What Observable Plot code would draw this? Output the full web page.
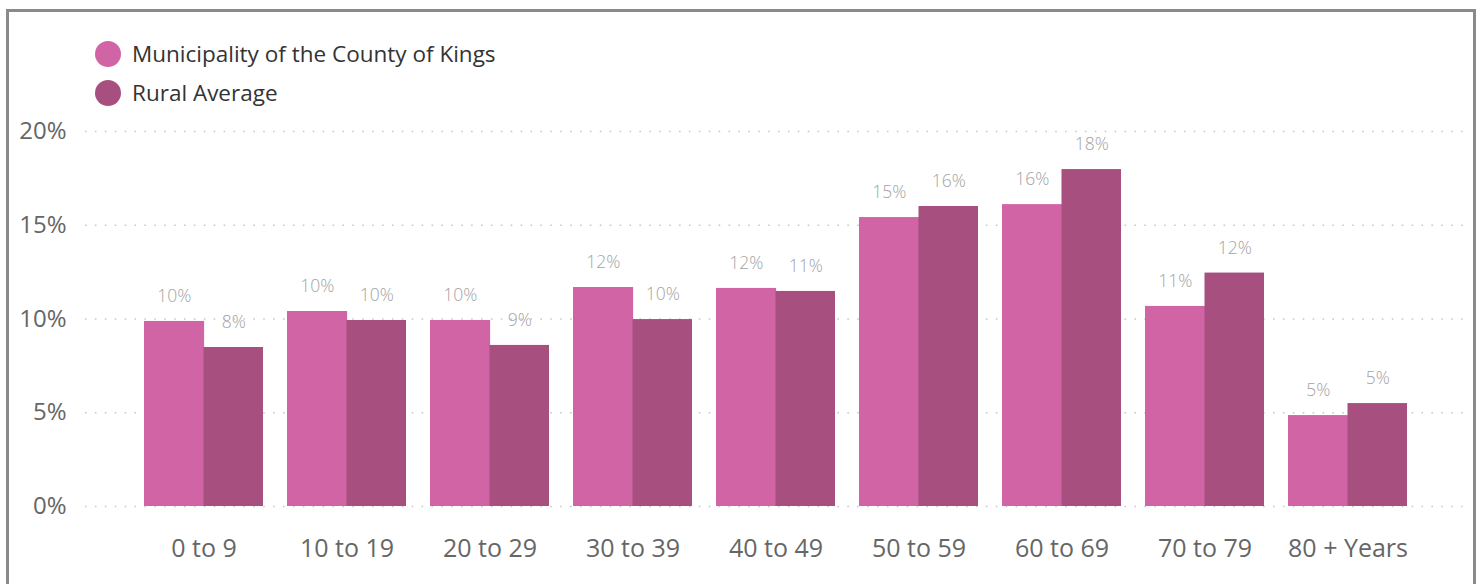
<!DOCTYPE html>
<html>
<head>
<meta charset="utf-8">
<script src="https://cdn.jsdelivr.net/npm/d3@7"></script>
<script src="https://cdn.jsdelivr.net/npm/@observablehq/plot@0.6"></script>
<style>
  html, body { margin: 0; padding: 0; background: #fff; overflow: hidden; width: 1480px; height: 584px; }
  body { position: relative; font-family: "Open Sans", "Noto Sans", sans-serif; }
  #frame { position: absolute; left: 6px; top: 9px; width: 1464px; height: 700px; border: 3px solid #8a8a8a; box-sizing: content-box; }
  #chart { position: absolute; left: 0; top: 0; }
  #legend { position: absolute; left: 95px; top: 34px; font-size: 22.5px; color: #333; }
  .item { display: flex; align-items: center; height: 39px; }
  .sw { width: 26px; height: 26px; border-radius: 50%; margin-right: 11px; }
</style>
</head>
<body>
<div id="frame"></div>
<div id="chart"></div>
<div id="legend"></div>
<script>
const categories = ["0 to 9", "10 to 19", "20 to 29", "30 to 39", "40 to 49", "50 to 59", "60 to 69", "70 to 79", "80 + Years"];
const seriesNames = ["Municipality of the County of Kings", "Rural Average"];
const municipality = [9.87, 10.4, 9.92, 11.68, 11.63, 15.41, 16.1, 10.67, 4.85];
const rural = [8.48, 9.92, 8.59, 9.97, 11.47, 16.0, 17.97, 12.45, 5.49];
const yTicks = [0, 5, 10, 15, 20];
const colors = ["#d064a4", "#a75080"];

const rows = [];
categories.forEach((c, i) => {
  rows.push({age: c, series: seriesNames[0], value: municipality[i]});
  rows.push({age: c, series: seriesNames[1], value: rural[i]});
});

const W = 1480, H = 584, mL = 85, mR = 15;
const pInner = 0.168, pOuter = 0.409;
const step = (W - mL - mR) / (categories.length - pInner + 2 * pOuter);
const half = step * (1 - pInner) / 2;

const M = rows.filter(d => d.series === seriesNames[0]);
const R = rows.filter(d => d.series === seriesNames[1]);

const plot = Plot.plot({
  width: W,
  height: H,
  marginLeft: mL,
  marginRight: mR,
  marginTop: 131,
  marginBottom: 78,
  style: {fontFamily: '"Open Sans", "Noto Sans", sans-serif', background: "transparent"},
  x: {domain: categories, paddingInner: pInner, paddingOuter: pOuter, align: 0.5},
  y: {domain: [0, 20]},
  color: {domain: seriesNames, range: colors},
  marks: [
    Plot.ruleY(yTicks, {stroke: "#c8c8c8", strokeWidth: 1.6, strokeDasharray: "1.6,8.3"}),
    Plot.barY(M, {x: "age", y: "value", fill: "series", insetRight: half - 0.6}),
    Plot.barY(R, {x: "age", y: "value", fill: "series", insetLeft: half}),
    Plot.text(M, {x: "age", y: "value", text: d => Math.round(d.value) + "%", dx: -half / 2, dy: -25, fill: "#a3a3a3", fontSize: 17.5, fontWeight: 300}),
    Plot.text(R, {x: "age", y: "value", text: d => Math.round(d.value) + "%", dx: half / 2, dy: -25, fill: "#a3a3a3", fontSize: 17.5, fontWeight: 300}),
    Plot.axisY(yTicks, {tickSize: 0, tickPadding: 19, tickFormat: d => d + "%", fontSize: 24, color: "#666", label: null}),
    Plot.axisX({tickSize: 0, tickPadding: 33, fontSize: 25, color: "#666", label: null})
  ]
});
document.getElementById("chart").appendChild(plot);

const legend = document.getElementById("legend");
seriesNames.forEach((s, i) => {
  const it = document.createElement("div");
  it.className = "item";
  const sw = document.createElement("span");
  sw.className = "sw";
  sw.style.background = colors[i];
  const tx = document.createElement("span");
  tx.textContent = s;
  it.appendChild(sw);
  it.appendChild(tx);
  legend.appendChild(it);
});
</script>
</body>
</html>
